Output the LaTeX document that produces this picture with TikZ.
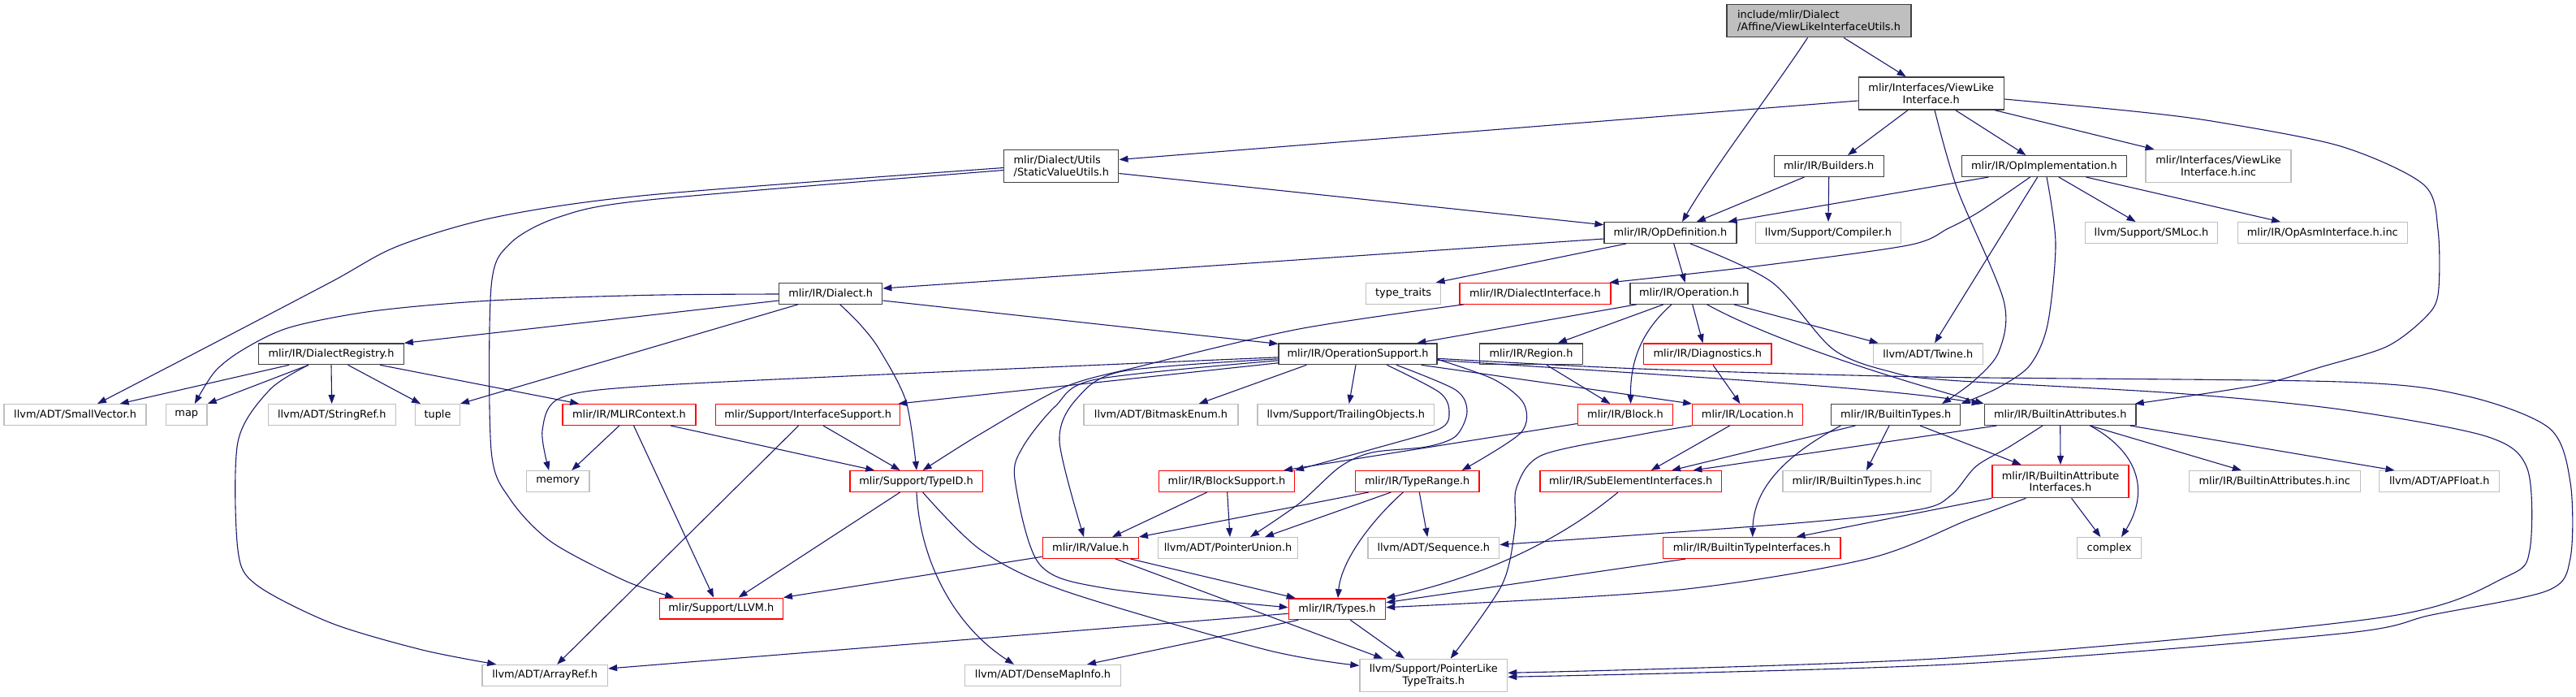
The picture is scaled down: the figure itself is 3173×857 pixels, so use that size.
\documentclass[tikz,border=0pt]{standalone}
\usepackage{fontspec}
\usetikzlibrary{arrows.meta,calc}
\newfontfamily\lblfont{DejaVu Sans}
\newcommand\lbl{\lblfont\fontsize{6.45pt}{7.4pt}\selectfont}
\definecolor{mblue}{HTML}{191970}
\definecolor{gborder}{HTML}{BFBFBF}
\definecolor{dborder}{HTML}{404040}
\definecolor{rborder}{HTML}{FF0000}
\tikzset{
  nd/.style={draw, fill=white, inner sep=0pt, minimum height=12.85pt, line width=0.65pt, font=\lbl, align=center},
  two/.style={minimum height=20pt},
  bk/.style={nd, draw=dborder},
  gy/.style={nd, draw=gborder},
  rd/.style={nd, draw=rborder},
  rootbox/.style={nd, draw=dborder, fill=gborder},
  e/.style={draw=mblue, line width=0.55pt, -{Triangle[length=5.5pt,width=4pt]}},
}
\begin{document}
\begin{tikzpicture}[x=0.5pt,y=-0.5pt]
\useasboundingbox (0,0) rectangle (3173,857);
% ---------- nodes ----------
\node[rootbox,two,align=left,minimum width=113.5pt] (root) at (2240.5,25.8) {include/mlir/Dialect\\/Affine/ViewLikeInterfaceUtils.h};
\node[bk,two,minimum width=89.5pt] (vli) at (2378.7,115) {mlir/Interfaces/ViewLike\\Interface.h};
\node[bk,two,align=left,minimum width=70.5pt] (svu) at (1307.3,204.5) {mlir/Dialect/Utils\\/StaticValueUtils.h};
\node[bk,minimum width=67.5pt] (builders) at (2252.7,204.5) {mlir/IR/Builders.h};
\node[bk,minimum width=101.5pt] (opimpl) at (2517.9,204.5) {mlir/IR/OpImplementation.h};
\node[gy,two,minimum width=89.5pt] (vliinc) at (2732.5,204.5) {mlir/Interfaces/ViewLike\\Interface.h.inc};
\node[bk,minimum width=81.5pt] (opdef) at (2057.5,286.5) {mlir/IR/OpDefinition.h};
\node[gy,minimum width=89.25pt] (compiler) at (2252,286.5) {llvm/Support/Compiler.h};
\node[gy,minimum width=81.5pt] (smloc) at (2650,286.5) {llvm/Support/SMLoc.h};
\node[gy,minimum width=104.5pt] (opasm) at (2860.8,286.5) {mlir/IR/OpAsmInterface.h.inc};
\node[bk,minimum width=63.5pt] (dialect) at (1023.2,361.3) {mlir/IR/Dialect.h};
\node[gy,minimum width=46pt] (typetraits) at (1728.6,361.3) {type\_traits};
\node[rd,minimum width=93pt] (dialiface) at (1890.9,361.3) {mlir/IR/DialectInterface.h};
\node[bk,minimum width=72.5pt] (operation) at (2080.6,361.3) {mlir/IR/Operation.h};
\node[bk,minimum width=89.25pt] (dreg) at (408,435.8) {mlir/IR/DialectRegistry.h};
\node[bk,minimum width=97.5pt] (opsupport) at (1672.5,435.8) {mlir/IR/OperationSupport.h};
\node[bk,minimum width=63.35pt] (region) at (1886,435.8) {mlir/IR/Region.h};
\node[rd,minimum width=78.8pt] (diag) at (2103.3,435.8) {mlir/IR/Diagnostics.h};
\node[gy,minimum width=67.5pt] (twine) at (2374.8,435.8) {llvm/ADT/Twine.h};
\node[gy,minimum width=87.5pt] (smallvec) at (92.6,510.5) {llvm/ADT/SmallVector.h};
\node[gy,minimum width=25.25pt] (map) at (229.8,510.5) {map};
\node[gy,minimum width=78.5pt] (stringref) at (408.7,510.5) {llvm/ADT/StringRef.h};
\node[gy,minimum width=27.3pt] (tuple) at (539,510.5) {tuple};
\node[rd,minimum width=82.1pt] (mlirctx) at (775,510.5) {mlir/IR/MLIRContext.h};
\node[rd,minimum width=113.5pt] (ifacesup) at (995.2,510.5) {mlir/Support/InterfaceSupport.h};
\node[gy,minimum width=95pt] (bitmask) at (1430,510.5) {llvm/ADT/BitmaskEnum.h};
\node[gy,minimum width=108.85pt] (trailing) at (1657.8,510.5) {llvm/Support/TrailingObjects.h};
\node[rd,minimum width=58.7pt] (block) at (2002,510.5) {mlir/IR/Block.h};
\node[rd,minimum width=67.85pt] (location) at (2152.6,510.5) {mlir/IR/Location.h};
\node[bk,minimum width=79.6pt] (builtintypes) at (2335.2,510.5) {mlir/IR/BuiltinTypes.h};
\node[bk,minimum width=93.35pt] (builtinattrs) at (2537.7,510.5) {mlir/IR/BuiltinAttributes.h};
\node[gy,minimum width=38.75pt] (memory) at (687.2,592.5) {memory};
\node[rd,minimum width=81.65pt] (typeid) at (1128.6,592.5) {mlir/Support/TypeID.h};
\node[rd,minimum width=83.35pt] (blocksupport) at (1511,592.5) {mlir/IR/BlockSupport.h};
\node[rd,minimum width=76.35pt] (typerange) at (1745.7,592.5) {mlir/IR/TypeRange.h};
\node[rd,minimum width=111.7pt] (subelem) at (2008.7,592.5) {mlir/IR/SubElementInterfaces.h};
\node[gy,minimum width=91.35pt] (btinc) at (2287.2,592.5) {mlir/IR/BuiltinTypes.h.inc};
\node[rd,two,minimum width=84pt] (baiface) at (2538,592.7) {mlir/IR/BuiltinAttribute\\Interfaces.h};
\node[gy,minimum width=105.35pt] (bainc) at (2801.8,592.5) {mlir/IR/BuiltinAttributes.h.inc};
\node[gy,minimum width=74pt] (apfloat) at (3004.7,592.5) {llvm/ADT/APFloat.h};
\node[rd,minimum width=59pt] (value) at (1343.3,674.5) {mlir/IR/Value.h};
\node[gy,minimum width=86.25pt] (ptrunion) at (1512.5,674.5) {llvm/ADT/PointerUnion.h};
\node[gy,minimum width=80.85pt] (sequence) at (1765.8,674.5) {llvm/ADT/Sequence.h};
\node[rd,minimum width=109.2pt] (btiface) at (2157.7,674.5) {mlir/IR/BuiltinTypeInterfaces.h};
\node[gy,minimum width=39.3pt] (complex) at (2598,674.5) {complex};
\node[rd,minimum width=76pt] (llvmh) at (888.3,749) {mlir/Support/LLVM.h};
\node[rd,minimum width=59.65pt] (types) at (1647,749.7) {mlir/IR/Types.h};
\node[gy,minimum width=77.3pt] (arrayref) at (671.2,831.3) {llvm/ADT/ArrayRef.h};
\node[gy,minimum width=96.15pt] (densemap) at (1284.5,831.3) {llvm/ADT/DenseMapInfo.h};
\node[gy,two,minimum width=90.85pt] (ptrlike) at (1765.8,831.3) {llvm/Support/PointerLike\\TypeTraits.h};
% ---------- curve end points ----------
\coordinate (s7) at ($(vli.south)+(4.3,0)$);
\coordinate (t7) at ($(builtintypes.north)+(56.8,0)$);
\coordinate (s8) at ($(vli.east)+(0,7)$);
\coordinate (t8) at ($(builtinattrs.north east)+(-2,0)$);
\coordinate (s10) at ($(svu.west)+(0,2)$);
\coordinate (t10) at ($(smallvec.north)+(27.4,0)$);
\coordinate (s11) at ($(svu.west)+(0,5)$);
\coordinate (t11) at ($(llvmh.north)+(-58,0)$);
\coordinate (s15) at ($(opimpl.south)+(-17.3,0)$);
\coordinate (t15) at ($(dialiface.north east)+(-2,0)$);
\coordinate (s17) at ($(opimpl.south)+(3.1,0)$);
\coordinate (s23) at ($(opdef.south)+(24.5,0)$);
\coordinate (t23) at ($(ptrlike.east)+(0,-3)$);
\coordinate (s30) at ($(opsupport.west)+(0,4)$);
\coordinate (t30) at ($(memory.north)+(-11,0)$);
\coordinate (s31) at ($(opsupport.west)+(0,6)$);
\coordinate (t31) at ($(value.north)+(-8.3,0)$);
\coordinate (s32) at ($(opsupport.west)+(0,8)$);
\coordinate (t32) at ($(types.west)+(0,-2)$);
\coordinate (s36) at ($(opsupport.south)+(35.8,0)$);
\coordinate (s37) at ($(opsupport.south)+(47.5,0)$);
\coordinate (t37) at ($(ptrunion.north)+(27.5,0)$);
\coordinate (s38) at ($(opsupport.east)+(0,6.5)$);
\coordinate (t38) at ($(typerange.north east)+(-22,0)$);
\coordinate (s41) at ($(opsupport.east)+(0,5.5)$);
\coordinate (t41) at ($(ptrlike.east)+(0,2)$);
\coordinate (s45) at ($(dialect.west)+(0,0.7)$);
\coordinate (t45) at ($(map.north)+(10,0)$);
\coordinate (s47) at ($(dialect.south)+(11.5,0)$);
\coordinate (t47) at ($(typeid.north)+(0.4,0)$);
\coordinate (s49) at ($(dialiface.south west)+(6,0)$);
\coordinate (t49) at ($(typeid.north)+(8,0)$);
\coordinate (s55) at ($(dreg.south)+(-28,0)$);
\coordinate (t55) at ($(arrayref.north west)+(18,0)$);
\coordinate (s63) at ($(typeid.south)+(8,0)$);
\coordinate (t63) at ($(ptrlike.west)+(0,-12)$);
\coordinate (t78) at ($(ptrlike.north)+(20.9,0)$);
\coordinate (s84) at ($(builtinattrs.south)+(-21.7,0)$);
\coordinate (t84) at ($(sequence.east)+(0,-4)$);
\coordinate (s90) at ($(baiface.south)+(-42.6,0)$);
\coordinate (t90) at ($(types.east)+(0,-2)$);
% ---------- edges ----------
\draw[e] ($(root.south)+(30.5,0)$) -- ($(vli.north)+(-31,0)$);
\draw[e] ($(root.south)+(-14,0)$) .. controls (2185,110) and (2115,200) .. ($(opdef.north)+(14.5,0)$);
\draw[e] ($(vli.west)+(0,9)$) -- ($(svu.east)+(0,-8)$);
\draw[e] ($(vli.south)+(-28.7,0)$) -- ($(builders.north)+(23.3,0)$);
\draw[e] ($(vli.south)+(30,0)$) -- ($(opimpl.north)+(-22.5,0)$);
\draw[e] ($(vli.south)+(78.3,0)$) -- ($(vliinc.north)+(-79,0)$);
\draw[e] plot[smooth] coordinates {(s7) (2411,233) (2468,370) (2462,433) (2430,470) (t7)};
\draw[e] plot[smooth] coordinates {(s8) (2628,137) (2730,150) (2883,180) (2985,227) (3003,283) (3003,363) (2985,393) (2939,427) (2858,452) (2781,474) (t8)};
\draw[e] ($(svu.east)+(0,9)$) -- ($(opdef.west)+(0,-9.8)$);
\draw[e] plot[smooth] coordinates {(s10) (800,240) (612,267) (490,303) (408,347) (255,427) (t10)};
\draw[e] plot[smooth] coordinates {(s11) (800,246) (689,267) (628,300) (605,353) (605,554) (628,614) (679,667) (770,715) (t11)};
\draw[e] ($(builders.south)+(-30.3,0)$) -- ($(opdef.north)+(32.3,0)$);
\draw[e] (builders.south) -- (compiler.north);
\draw[e] ($(opimpl.south)+(-68.4,0)$) -- ($(opdef.north east)+(-11,0)$);
\draw[e] plot[smooth] coordinates {(s15) (2439,260) (2400,281) (2350,302) (2161,328) (t15)};
\draw[e] ($(opimpl.south)+(-8.2,0)$) -- ($(twine.north)+(8.2,0)$);
\draw[e] plot[smooth] coordinates {(s17) (2532,300) (2522,400) (2500,450) (2460,478) (builtintypes.north east)};
\draw[e] ($(opimpl.south)+(18,0)$) -- ($(smloc.north)+(-19.4,0)$);
\draw[e] ($(opimpl.south)+(51.5,0)$) -- ($(opasm.north)+(-51.8,0)$);
\draw[e] ($(opdef.west)+(0,7.5)$) -- ($(dialect.east)+(0,-6.3)$);
\draw[e] ($(opdef.south)+(-54.5,0)$) -- ($(typetraits.north)+(40,0)$);
\draw[e] ($(opdef.south)+(4.2,0)$) -- ($(operation.north)+(-5,0)$);
\draw[e] plot[smooth] coordinates {(s23) (2182,347) (2258,430) (2330,458) (2400,468) (2679,484) (2883,504) (3062,537) (3113,577) (3116,677) (3087,710) (2934,760) (2400,810) (t23)};
\draw[e] ($(operation.south)+(-64.8,0)$) -- ($(opsupport.north)+(72.9,0)$);
\draw[e] ($(operation.south)+(-31.6,0)$) -- ($(region.north)+(32.9,0)$);
\draw[e] ($(operation.south)+(-21.6,0)$) .. controls (2025,405) and (2008,440) .. ($(block.north)+(6.6,0)$);
\draw[e] ($(operation.south)+(4.1,0)$) -- ($(diag.north)+(-5.8,0)$);
\draw[e] ($(operation.south)+(21.9,0)$) .. controls (2185,420) and (2330,465) .. (builtinattrs.north west);
\draw[e] ($(operation.south)+(55,0)$) -- ($(twine.north west)+(7,0)$);
\draw[e] plot[smooth] coordinates {(s30) (1200,456) (800,475) (690,490) (668,530) (t30)};
\draw[e] plot[smooth] coordinates {(s31) (1383,457) (1327,490) (1305,543) (t31)};
\draw[e] plot[smooth] coordinates {(s32) (1350,467) (1300,500) (1260,550) (1250,590) (1280,694) (1361,724) (t32)};
\draw[e] ($(opsupport.west)+(0,11)$) -- ($(ifacesup.north east)+(-3,0)$);
\draw[e] ($(opsupport.south west)+(35,0)$) -- ($(bitmask.north)+(46.7,0)$);
\draw[e] ($(opsupport.south)+(-2.5,0)$) -- ($(trailing.north)+(3.9,0)$);
\draw[e] plot[smooth] coordinates {(s36) (1773,483) (1785,507) (1773,528) (1690,553) (blocksupport.north east)};
\draw[e] plot[smooth] coordinates {(s37) (1793,480) (1807,507) (1793,537) (1757,550) (1690,557) (1650,575) (1600,620) (t37)};
\draw[e] plot[smooth] coordinates {(s38) (1840,467) (1877,497) (1873,533) (t38)};
\draw[e] ($(opsupport.south east)+(-20,0)$) -- (location.north west);
\draw[e] ($(opsupport.east)+(0,7.5)$) .. controls (2100,465) and (2330,478) .. ($(builtinattrs.north west)+(-4,0)$);
\draw[e] plot[smooth] coordinates {(s41) (2020,454) (2373,464) (2883,470) (3036,487) (3140,527) (3166,594) (3166,687) (3138,727) (2995,757) (2883,780) (2400,818) (t41)};
\draw[e] ($(region.south)+(19,0)$) -- ($(block.north)+(-18.7,0)$);
\draw[e] ($(diag.south)+(6.7,0)$) -- ($(location.north)+(-9.2,0)$);
\draw[e] ($(dialect.west)+(0,8.7)$) -- (dreg.north east);
\draw[e] plot[smooth] coordinates {(s45) (800,363.3) (604.6,370) (459,383) (357,403) (300,430) (265,457) (t45)};
\draw[e] ($(dialect.south west)+(24,0)$) -- (tuple.north east);
\draw[e] plot[smooth] coordinates {(s47) (1060,400) (1083,430) (1116,494) (t47)};
\draw[e] ($(dialect.east)+(0,8.7)$) -- ($(opsupport.north west)+(0,1)$);
\draw[e] plot[smooth] coordinates {(s49) (1600,405) (1400,452) (1310,477) (1208,534) (t49)};
\draw[e] ($(dreg.south west)+(38,0)$) -- ($(smallvec.north)+(55,0)$);
\draw[e] ($(dreg.south)+(-28,0)$) -- (map.north east);
\draw[e] (dreg.south) -- (stringref.north);
\draw[e] ($(dreg.south)+(20.6,0)$) -- ($(tuple.north)+(-21,0)$);
\draw[e] ($(dreg.south east)+(-30,0)$) -- ($(mlirctx.north west)+(21,0)$);
\draw[e] plot[smooth] coordinates {(s55) (332,480) (293,544) (293,677) (316,720) (408,767) (520,800) (t55)};
\draw[e] ($(mlirctx.south)+(-12.2,0)$) -- ($(memory.north)+(17,0)$);
\draw[e] ($(mlirctx.south)+(5.6,0)$) -- ($(llvmh.north)+(-9.3,0)$);
\draw[e] ($(mlirctx.south east)+(-31.6,0)$) -- ($(typeid.north west)+(31,0)$);
\draw[e] ($(ifacesup.south)+(18.8,0)$) -- ($(typeid.north)+(-20,0)$);
\draw[e] ($(ifacesup.south)+(-11.5,0)$) -- ($(arrayref.north)+(15,0)$);
\draw[e] ($(typeid.south)+(-20,0)$) -- ($(llvmh.north)+(21.4,0)$);
\draw[e] ($(typeid.south)+(0.4,0)$) .. controls (1133,690) and (1175,770) .. ($(densemap.north)+(-35.5,0)$);
\draw[e] plot[smooth] coordinates {(s63) (1208,677) (1310,727) (1560,800) (t63)};
\draw[e] ($(blocksupport.south)+(-24.3,0)$) -- ($(value.north)+(26.7,0)$);
\draw[e] ($(blocksupport.south)+(0.7,0)$) -- ($(ptrunion.north)+(2.5,0)$);
\draw[e] ($(typerange.south west)+(17,0)$) -- (value.north east);
\draw[e] ($(typerange.south)+(-32.4,0)$) -- ($(ptrunion.north)+(45.5,0)$);
\draw[e] ($(typerange.south)+(-17.4,0)$) .. controls (1690,640) and (1652,690) .. ($(types.north)+(1,0)$);
\draw[e] ($(typerange.south)+(2.6,0)$) -- ($(sequence.north)+(-7.5,0)$);
\draw[e] ($(value.west)+(0,10.8)$) -- (llvmh.north east);
\draw[e] ($(value.south east)+(-10.5,0)$) -- ($(types.north west)+(9,0)$);
\draw[e] ($(value.south)+(30.7,0)$) -- ($(ptrlike.north)+(-62.5,0)$);
\draw[e] ($(types.west)+(0,5.6)$) -- ($(arrayref.east)+(0,-8.3)$);
\draw[e] ($(types.south west)+(12.6,0)$) -- ($(densemap.north east)+(-42.3,0)$);
\draw[e] ($(types.south)+(16.3,0)$) -- ($(ptrlike.north)+(-35.8,0)$);
\draw[e] ($(subelem.south)+(-15.8,0)$) .. controls (1940,650) and (1850,705) .. (types.north east);
\draw[e] ($(location.south)+(-22,0)$) -- ($(subelem.north)+(25,0)$);
\draw[e] plot[smooth] coordinates {(location.south west) (2020,535) (1900,560) (1868,600) (1866,650) (1850,720) (t78)};
\draw[e] ($(builtintypes.south west)+(30.4,0)$) -- ($(subelem.north)+(50.3,0)$);
\draw[e] ($(builtintypes.south west)+(12.4,0)$) .. controls (2200,560) and (2160,600) .. ($(btiface.north)+(1,0)$);
\draw[e] ($(builtintypes.south)+(-8.2,0)$) -- ($(btinc.north)+(11.8,0)$);
\draw[e] ($(builtintypes.south)+(29.8,0)$) -- ($(baiface.north west)+(36.3,0)$);
\draw[e] ($(builtinattrs.south west)+(15.7,0)$) -- ($(subelem.north east)+(-35.7,0)$);
\draw[e] plot[smooth] coordinates {(s84) (2475,550) (2434,574) (2404,609) (2365,627) (2212,644) (t84)};
\draw[e] (builtinattrs.south) -- (baiface.north);
\draw[e] ($(builtinattrs.south)+(36.8,0)$) .. controls (2640,560) and (2645,610) .. ($(complex.north)+(15,0)$);
\draw[e] ($(builtinattrs.south)+(36.8,0)$) -- ($(bainc.north)+(-41,0)$);
\draw[e] ($(builtinattrs.south east)+(-8,0)$) -- ($(apfloat.north)+(-55.2,0)$);
\draw[e] (baiface.south west) -- ($(btiface.north east)+(-55,0)$);
\draw[e] plot[smooth] coordinates {(s90) (2424,640) (2300,688) (2059,727) (t90)};
\draw[e] ($(baiface.south)+(13.6,0)$) -- ($(complex.north)+(-10.7,0)$);
\draw[e] ($(btiface.south west)+(28.5,0)$) -- ($(types.east)+(0,-8)$);
\draw[e] ($(block.west)+(0,11)$) -- ($(blocksupport.north east)+(-14,0)$);
\end{tikzpicture}
\end{document}
